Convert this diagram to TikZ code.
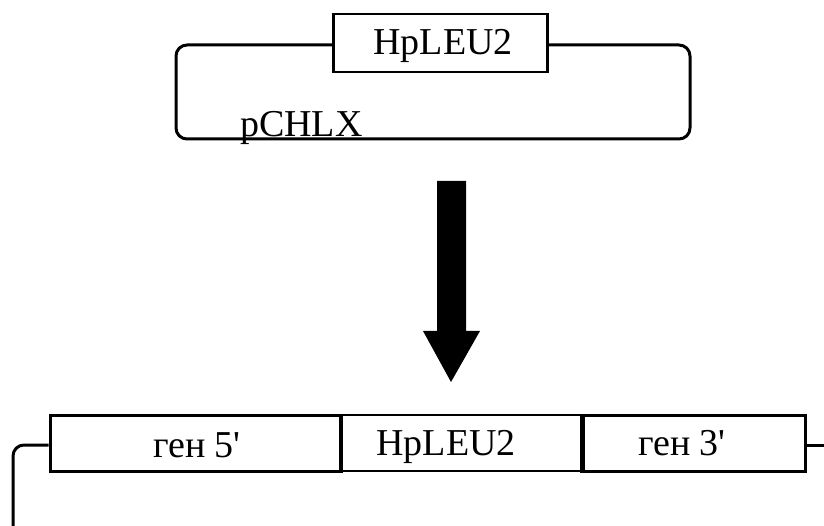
\documentclass[tikz,border=0pt]{standalone}
\usepackage{fontspec}
\setmainfont{Liberation Serif}[Ligatures=TeXOff]
\begin{document}
\begin{tikzpicture}[x=1pt,y=-1pt,
  wire/.style={line width=3pt,rounded corners=11pt},
  genebox/.style={draw,line width=3pt,rectangle,inner sep=0pt},
  lbl/.style={inner sep=0pt,anchor=base,font=\fontsize{38}{40}\selectfont}]
\useasboundingbox (0,0) rectangle (824,526);
% plasmid pCHLX carrying the marker
\node[genebox,line width=2.6pt,minimum width=214pt,minimum height=58pt] (hp) at (440.5,43) {};
\node[lbl] (hptxt) at (443,55) {HpLEU2};
\coordinate (tl) at (176,45);
\coordinate (bl) at (176,139);
\coordinate (br) at (690,139);
\coordinate (tr) at (690,45);
\draw[wire] (hp.west |- tl) -- (tl) -- (bl) -- (br) -- (tr) -- (hp.east |- tr);
\node[lbl,anchor=base west] (pchlx) at (240,137) {pCHLX};
% transition arrow
\fill (437,181) -- (466,181) -- (466,331) -- (480,331) -- (451,382) -- (423,331) -- (437,331) -- cycle;
% integrated cassette
\node[genebox,minimum width=290pt,minimum height=56pt] (g5) at (195,443) {};
\node[genebox,line width=2.2pt,minimum width=243pt,minimum height=56pt] (mid) at (461.5,443) {};
\node[genebox,minimum width=222pt,minimum height=56pt] (g3) at (694,443) {};
\draw[line width=3pt] (g5.north east) -- (g5.south east);
\draw[line width=3pt] (g3.north west) -- (g3.south west);
\node[lbl] (t5) at (197,457) {ген 5'};
\node[lbl] (tmid) at (446,455) {HpLEU2};
\node[lbl] (t3) at (682,455) {ген 3'};
\coordinate (lc) at (13,445);
\coordinate (ld) at (13,540);
\coordinate (re) at (830,445);
\draw[wire] (g5.west |- lc) -- (lc) -- (ld);
\draw[line width=3pt] (g3.east |- re) -- (re);
\end{tikzpicture}
\end{document}
